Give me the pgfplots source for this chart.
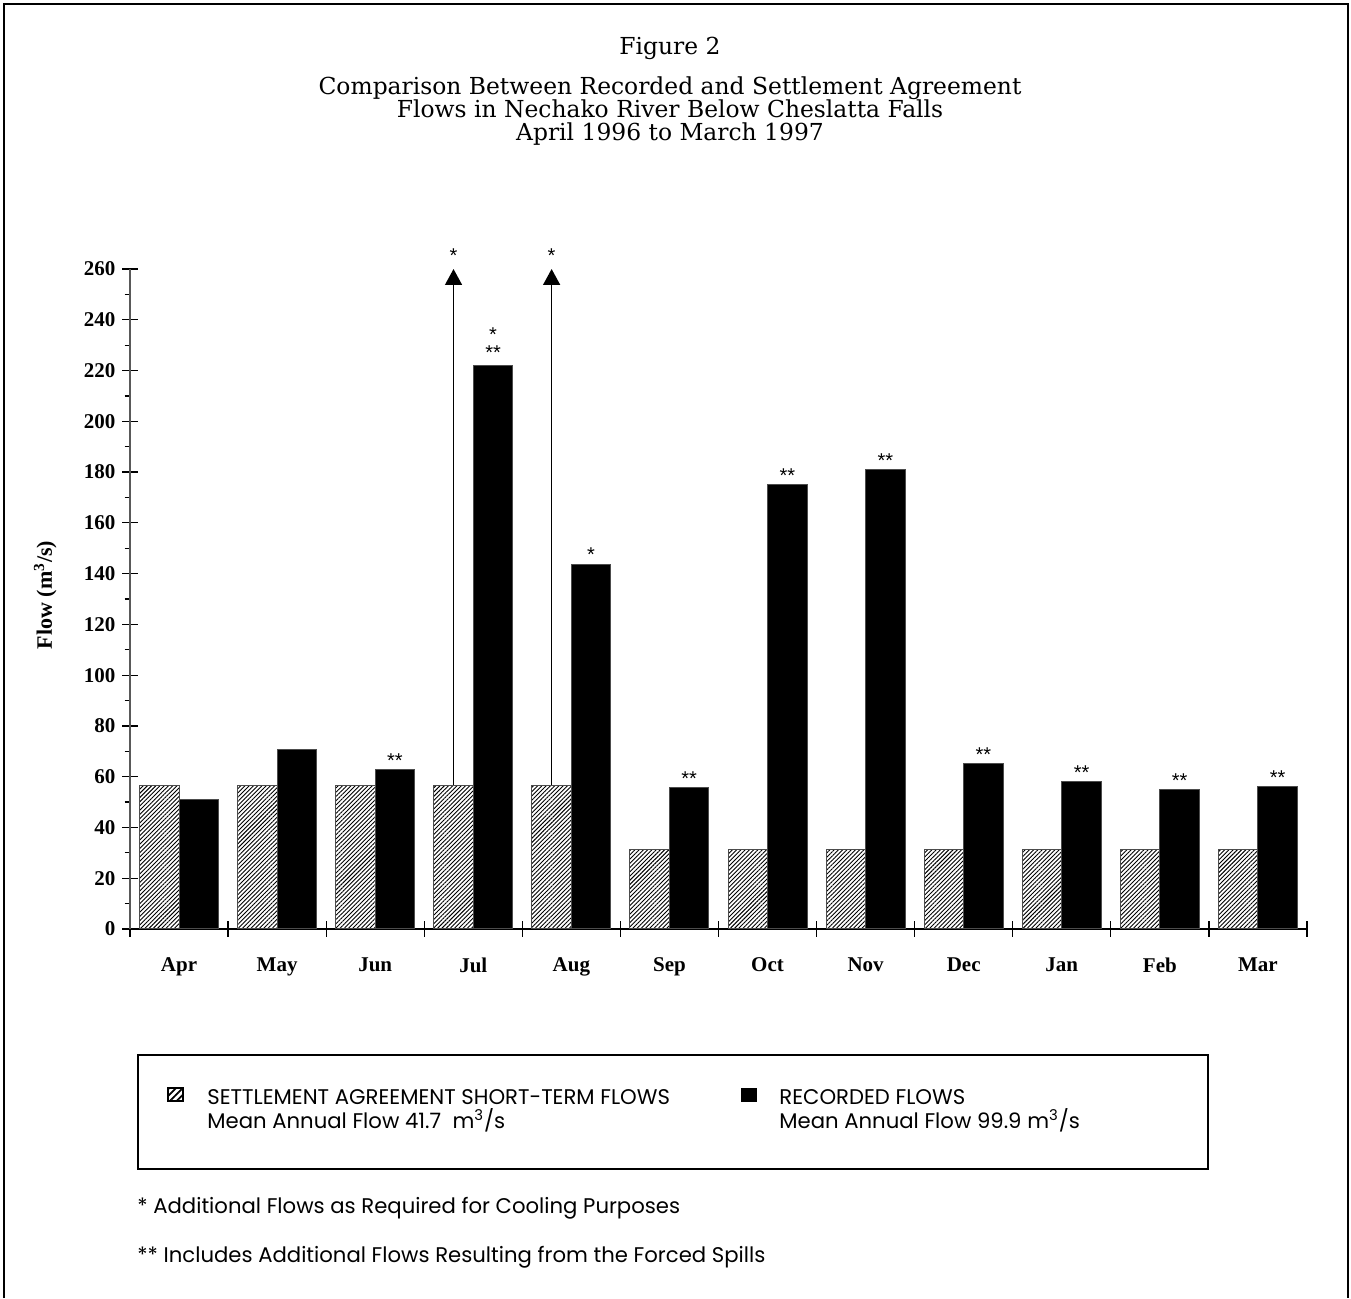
\documentclass[border=0pt]{standalone}
\usepackage{fontspec}
\setmainfont{DejaVu Serif}
\newfontfamily\tickfont{Liberation Serif}
\newfontfamily\notefont{Poppins}
\newfontfamily\starfont{Liberation Sans}
\usepackage{pgfplots}
\usepackage{pgfplotstable}
\pgfplotsset{compat=1.18}
\usetikzlibrary{patterns.meta,arrows.meta}

% monthly flows, m3/s (x = month index, Apr 1996 = 0)
\pgfplotstableread{
x  settle recorded
0  56.6   51.0
1  56.6   70.6
2  56.6   62.8
3  56.6   221.9
4  56.6   143.6
5  31.2   55.9
6  31.2   175.3
7  31.2   181.0
8  31.2   65.2
9  31.2   58.0
10 31.2   55.1
11 31.2   56.3
}\flows

\tikzset{
  hatch/.style={pattern={Lines[angle=45,distance=1.5pt,line width=0.45pt]},pattern color=black},
  star/.style={anchor=base,inner sep=0pt,font=\starfont\fontsize{10}{10}\selectfont},
}

\begin{document}
\begin{tikzpicture}
\useasboundingbox (0,0) rectangle (675.5pt,649pt);
\draw[line width=1pt] (2pt,0) -- (2pt,647pt) -- (674pt,647pt) -- (674pt,0);

% title
\begin{scope}[every node/.style={anchor=base,inner sep=0pt,font=\fontsize{11.7}{12}\selectfont}]
\node at (335pt,621.5pt) {Figure 2};
\node at (335pt,601.5pt) {Comparison Between Recorded and Settlement Agreement};
\node at (335pt,590pt) {Flows in Nechako River Below Cheslatta Falls};
\node at (335pt,578.5pt) {April 1996 to March 1997};
\end{scope}

\begin{axis}[
    at={(65pt,184.5pt)}, anchor=south west,
    scale only axis,
    width=588.5pt, height=330pt,
    xmin=-0.5, xmax=11.5,
    ymin=0, ymax=260,
    axis x line*=bottom,
    axis y line*=left,
    x axis line style={line width=0.7pt},
    y axis line style={black!65,line width=0.9pt},
    ybar=0pt,
    bar width=19.75pt,
    xtick={-0.5,0.5,...,11.5},
    xticklabels={Apr,May,Jun,Jul,Aug,Sep,Oct,Nov,Dec,Jan,Feb,Mar},
    x tick label as interval,
    ytick={0,20,...,260},
    minor y tick num=1,
    tick align=center,
    major tick length=7.5pt,
    minor tick length=2.7pt,
    minor y tick style={xshift=-1.35pt},
    tick style={black,line width=0.6pt},
    /pgf/number format/assume math mode=true,
    tick label style={font=\tickfont\bfseries\fontsize{10.5}{12}\selectfont},
    xticklabel style={yshift=-7pt},
    ylabel={Flow (m\textsuperscript{3}/s)},
    ylabel style={at={(rel axis cs:-0.072,0.506)},anchor=center,font=\tickfont\bfseries\fontsize{11}{12}\selectfont},
    clip=false,
]
\addplot[hatch,draw=black!70,line width=0.5pt] table[x=x,y=settle]{\flows};
\addplot[fill=black,draw=black!70,line width=0.5pt] table[x=x,y=recorded]{\flows};

% cooling-flow arrows above the settlement bars in Jul and Aug
\draw[line width=0.75pt,-{Triangle[width=8.5pt,length=8pt]}] (axis cs:2.7986,56.6) -- (axis cs:2.7986,260);
\draw[line width=0.75pt,-{Triangle[width=8.5pt,length=8pt]}] (axis cs:3.7986,56.6) -- (axis cs:3.7986,260);
\node[star,yshift=3pt] at (axis cs:2.7986,260) {*};
\node[star,yshift=3pt] at (axis cs:3.7986,260) {*};

% footnote marks on recorded bars
\node[star,yshift=3pt] at (axis cs:3.2014,221.9) {**};
\node[star,yshift=12pt] at (axis cs:3.2014,221.9) {*};
\node[star,yshift=1.5pt] at (axis cs:4.2014,143.6) {*};
\node[star,yshift=1pt] at (axis cs:2.2014,62.8) {**};
\node[star,yshift=1pt] at (axis cs:5.2014,55.9) {**};
\node[star,yshift=1pt] at (axis cs:6.2014,175.3) {**};
\node[star,yshift=1pt] at (axis cs:7.2014,181.0) {**};
\node[star,yshift=1pt] at (axis cs:8.2014,65.2) {**};
\node[star,yshift=1pt] at (axis cs:9.2014,58.0) {**};
\node[star,yshift=1pt] at (axis cs:10.2014,55.1) {**};
\node[star,yshift=1pt] at (axis cs:11.2014,56.3) {**};
\end{axis}

% legend box
\draw[line width=0.7pt] (69pt,64.5pt) rectangle (604pt,121.5pt);
\filldraw[pattern={Lines[angle=45,distance=2.4pt,line width=0.9pt]},draw=black,line width=0.6pt] (84pt,98.5pt) rectangle (91.5pt,105pt);
\fill[black] (370.5pt,98pt) rectangle (378.5pt,105pt);
\begin{scope}[every node/.style={anchor=base west,inner sep=0pt,font=\notefont\fontsize{10.6}{12}\selectfont}]
\node at (103.5pt,97pt) {SETTLEMENT AGREEMENT SHORT-TERM FLOWS};
\node at (103.5pt,85pt) {Mean Annual Flow 41.7~ m\textsuperscript{3}/s};
\node at (389.5pt,97pt) {RECORDED FLOWS};
\node at (389.5pt,85pt) {Mean Annual Flow 99.9 m\textsuperscript{3}/s};
\node at (68.5pt,42.5pt) {* Additional Flows as Required for Cooling Purposes};
\node at (68.5pt,18pt) {** Includes Additional Flows Resulting from the Forced Spills};
\end{scope}
\end{tikzpicture}
\end{document}
